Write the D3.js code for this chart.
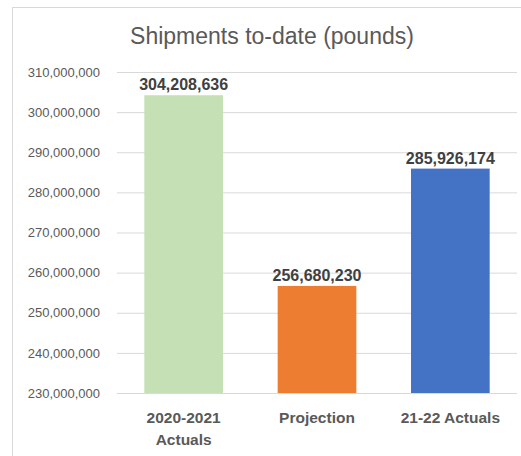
<!DOCTYPE html>
<html>
<head>
<meta charset="utf-8">
<script src="https://cdn.jsdelivr.net/npm/d3@7"></script>
<style>
  body { margin: 0; background: #fff; }
  text { font-family: "Liberation Sans", Arial, sans-serif; }
</style>
</head>
<body>
<div id="chart"></div>
<script>
var categories = [['2020-2021', 'Actuals'], ['Projection'], ['21-22 Actuals']];
var values = [304208636, 256680230, 285926174];
var colors = ['#c5e0b4', '#ed7d31', '#4472c4'];
var yTicks = [230000000, 240000000, 250000000, 260000000, 270000000, 280000000, 290000000, 300000000, 310000000];

var width = 521, height = 456;
var margin = { top: 72, right: 4, bottom: 63, left: 117 };

var svg = d3.select('#chart').append('svg')
    .attr('width', width)
    .attr('height', height);

// chart frame
svg.append('rect')
    .attr('x', 12.5).attr('y', 7.5)
    .attr('width', 540).attr('height', 500)
    .attr('fill', '#fff')
    .attr('stroke', '#d9d9d9');

svg.append('text')
    .attr('x', 272)
    .attr('y', 44)
    .attr('text-anchor', 'middle')
    .style('font-size', '23px')
    .style('fill', '#595959')
    .text('Shipments to-date (pounds)');

var x = d3.scaleBand()
    .domain(d3.range(values.length))
    .range([margin.left, width - margin.right])
    .paddingInner(0.41)
    .paddingOuter(0.205);

var y = d3.scaleLinear()
    .domain([230000000, 310000000])
    .range([height - margin.bottom, margin.top]);

var fmt = d3.format(',');

// gridlines + tick labels
var yAxis = svg.append('g')
    .attr('transform', `translate(${margin.left},0)`)
    .call(d3.axisLeft(y).tickValues(yTicks).tickFormat(fmt)
        .tickSize(-(width - margin.right - margin.left)).tickPadding(17));
yAxis.select('.domain').remove();
yAxis.selectAll('.tick line').attr('stroke', '#d9d9d9');
yAxis.selectAll('.tick text')
    .style('font-size', '13px')
    .style('fill', '#595959')
    .style('font-family', '"Liberation Sans", Arial, sans-serif');

svg.selectAll('.bar')
    .data(values)
    .enter().append('rect')
    .attr('class', 'bar')
    .attr('x', (d, i) => x(i))
    .attr('y', d => y(d))
    .attr('width', x.bandwidth())
    .attr('height', d => y(230000000) - y(d))
    .attr('fill', (d, i) => colors[i]);

// bottom axis line
svg.append('line')
    .attr('x1', margin.left).attr('x2', width - margin.right)
    .attr('y1', y(230000000) + 0.5).attr('y2', y(230000000) + 0.5)
    .attr('stroke', '#d9d9d9');

svg.selectAll('.label')
    .data(values)
    .enter().append('text')
    .attr('class', 'label')
    .attr('x', (d, i) => x(i) + x.bandwidth() / 2)
    .attr('y', d => y(d) - 5)
    .attr('text-anchor', 'middle')
    .style('font-size', '16px')
    .style('font-weight', 'bold')
    .style('fill', '#404040')
    .text(d => fmt(d));

var cat = svg.selectAll('.cat')
    .data(categories)
    .enter().append('text')
    .attr('class', 'cat')
    .attr('text-anchor', 'middle')
    .style('font-size', '15.5px')
    .style('font-weight', 'bold')
    .style('fill', '#595959');

cat.selectAll('tspan')
    .data((d, i) => d.map(s => ({ s: s, i: i })))
    .enter().append('tspan')
    .attr('x', d => x(d.i) + x.bandwidth() / 2)
    .attr('y', (d, j) => 423 + j * 21.5)
    .text(d => d.s);
</script>
</body>
</html>
